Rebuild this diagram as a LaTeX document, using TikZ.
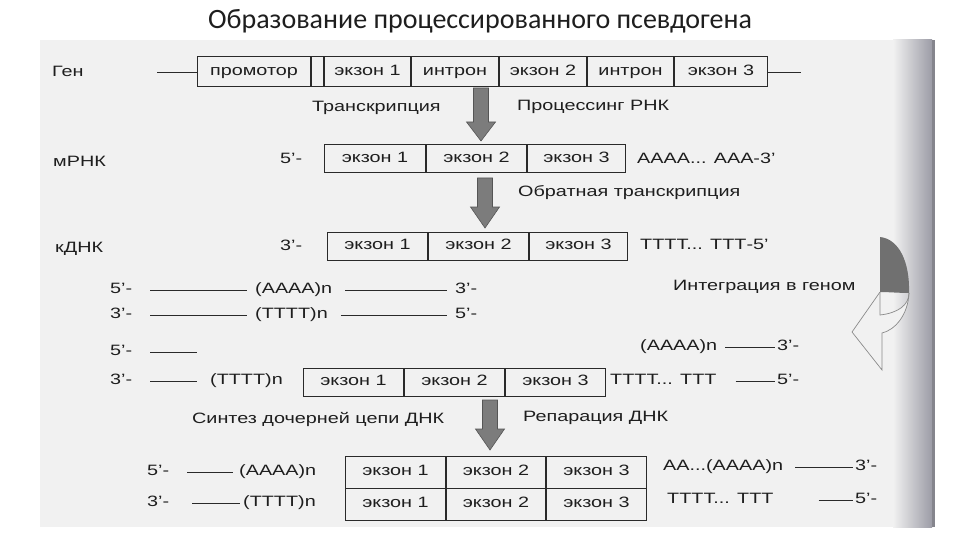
\documentclass[tikz,border=0pt]{standalone}
\usepackage{fontspec}
\setmainfont{Liberation Sans}[FakeStretch=1.32]
\newfontfamily\titlefont{Carlito}
\usetikzlibrary{calc}
\definecolor{txt}{HTML}{1E1E1E}
\definecolor{boxc}{HTML}{2A2A2A}
\definecolor{pagec}{HTML}{F1F1F1}
\definecolor{edgec}{HTML}{9C9CA6}
\definecolor{arrowfill}{HTML}{7C7C7C}
\definecolor{arrowdraw}{HTML}{555555}
\definecolor{intdark}{HTML}{707070}
\definecolor{intline}{HTML}{8A8A8A}
\newcommand\myblockarrow[5]{% name, x, top, head start, tip
  \coordinate (#1) at (#2,#3);
  \filldraw[fill=arrowfill, draw=arrowdraw, line width=0.6pt]
    (#2-7.5,#3) -- (#2+7.5,#3) -- (#2+7.5,#4) -- (#2+14.5,#4) -- (#2,#5)
    -- (#2-14.5,#4) -- (#2-7.5,#4) -- cycle;}
\begin{document}
\begin{tikzpicture}[x=1pt,y=-1pt,
  every node/.style={text=txt, font=\fontsize{15}{18}\selectfont, inner sep=0pt,
    text height=10.5pt, text depth=3pt},
  lbl/.style={anchor=west},
  seg/.style={draw=boxc, line width=1pt, minimum height=30pt, anchor=west},
  segb/.style={seg, minimum height=28pt},
  segc/.style={seg, minimum height=32pt},
  strand/.style={draw=boxc, line width=0.9pt}]
\useasboundingbox (0,0) rectangle (960,540);
\fill[white] (0,0) rectangle (960,540);
% scanned page
\fill[pagec] (40,40) rectangle (935,527);
\shade[left color=pagec, right color=edgec] (893,40) rectangle (932,527);
\fill[edgec!85!black] (932,40) rectangle (935,527);

% title
\node[text height=, text depth=] (title) at (480,21) {\titlefont\fontsize{28}{32}\selectfont Образование процессированного псевдогена};

% gene
\node[lbl] (gen) at (52,73) {Ген};
\coordinate (g0) at (157,72);
\node[seg, minimum width=113] (prom) at (197,72) {промотор};
\node[seg, minimum width=12] (gap) at (prom.east) {};
\node[seg, minimum width=86] (ge1) at (gap.east) {экзон 1};
\node[seg, minimum width=87] (gi1) at (ge1.east) {интрон};
\node[seg, minimum width=87] (ge2) at (gi1.east) {экзон 2};
\node[seg, minimum width=86] (gi2) at (ge2.east) {интрон};
\node[seg, minimum width=93] (ge3) at (gi2.east) {экзон 3};
\coordinate (g1) at (801,72);
\draw[strand] (g0) -- (prom.west);
\draw[strand] (ge3.east) -- (g1);

\myblockarrow{arr1}{481}{88}{122}{141}
\node[lbl] (tr) at (312,108) {Транскрипция};
\node[lbl] (proc) at (517,107) {Процессинг РНК};

% mRNA
\node[lbl] (mrna) at (53,163) {мРНК};
\node[lbl] (m5) at (280,160) {5'-};
\node[segb, minimum width=101] (me1) at (324,159) {экзон 1};
\node[segb, minimum width=100] (me2) at (me1.east) {экзон 2};
\node[segb, minimum width=98] (me3) at (me2.east) {экзон 3};
\node[lbl] (mA) at (637,160) {АААА... ААА-3'};

\myblockarrow{arr2}{485}{178}{207}{228}
\node[lbl] (rt) at (518,193) {Обратная транскрипция};

% cDNA
\node[lbl] (cdna) at (55,249) {кДНК};
\node[lbl] (c3) at (280,247) {3'-};
\node[segb, minimum width=100] (ce1) at (327,246) {экзон 1};
\node[segb, minimum width=100] (ce2) at (ce1.east) {экзон 2};
\node[segb, minimum width=98] (ce3) at (ce2.east) {экзон 3};
\node[lbl] (cT) at (640,246) {ТТТТ... ТТТ-5'};

% genomic target
\node[lbl] (r4a) at (110,290) {5'-};
\node[lbl] (r4b) at (255,290) {(АААА)n};
\node[lbl] (r4c) at (455,290) {3'-};
\draw[strand, shorten <=18pt, shorten >=8pt] (r4a.east) -- (r4b.west);
\draw[strand, shorten <=13pt, shorten >=8pt] (r4b.east) -- (r4c.west);
\node[lbl] (r5a) at (110,315) {3'-};
\node[lbl] (r5b) at (255,315) {(ТТТТ)n};
\node[lbl] (r5c) at (455,315) {5'-};
\draw[strand, shorten <=18pt, shorten >=8pt] (r5a.east) -- (r5b.west);
\draw[strand, shorten <=13pt, shorten >=8pt] (r5b.east) -- (r5c.west);

\node[lbl] (integ) at (673,287) {Интеграция в геном};

% integration arrow
\fill[intdark] (880,237) .. controls (899,239) and (910,262) .. (909,293)
  .. controls (900,293) and (888,292) .. (880,292) -- cycle;
\fill[pagec] (880,292) -- (880,315) .. controls (898,313) and (909,305) .. (909,293)
  .. controls (908,315) and (895,330) .. (882,333) -- (882,370) -- (852,332) -- cycle;
\draw[intline, line width=0.7pt] (880,292) -- (880,315)
  .. controls (898,313) and (909,305) .. (909,293);
\draw[intline, line width=0.7pt] (880,292) -- (852,332) -- (882,370) -- (882,333)
  .. controls (895,330) and (908,315) .. (909,293);

% integrated
\node[lbl] (r6a) at (110,352) {5'-};
\coordinate (r6e) at (197,352);
\draw[strand, shorten <=18pt] (r6a.east) -- (r6e);
\node[lbl] (r6b) at (640,347) {(АААА)n};
\node[lbl] (r6c) at (777,347) {3'-};
\draw[strand, shorten <=8pt, shorten >=2pt] (r6b.east) -- (r6c.west);

\node[lbl] (r7a) at (110,381) {3'-};
\node[lbl] (r7b) at (210,381) {(ТТТТ)n};
\draw[strand, shorten <=18pt, shorten >=13pt] (r7a.east) -- (r7b.west);
\node[segb, minimum width=100] (ie1) at (303,382) {экзон 1};
\node[segb, minimum width=100] (ie2) at (ie1.east) {экзон 2};
\node[segb, minimum width=100] (ie3) at (ie2.east) {экзон 3};
\node[lbl] (r7c) at (610,381) {ТТТТ... ТТТ};
\node[lbl] (r7d) at (777,381) {5'-};
\draw[strand, shorten <=19pt, shorten >=2pt] (r7c.east) -- (r7d.west);

\myblockarrow{arr3}{490}{400}{429}{450}
\node[lbl] (syn) at (192,420) {Синтез дочерней цепи ДНК};
\node[lbl] (rep) at (523,418) {Репарация ДНК};

% final double-stranded pseudogene
\node[segc, minimum width=100] (fa1) at (345,472) {экзон 1};
\node[segc, minimum width=99] (fa2) at (fa1.east) {экзон 2};
\node[segc, minimum width=100] (fa3) at (fa2.east) {экзон 3};
\node[segc, minimum width=100] (fb1) at (345,504) {экзон 1};
\node[segc, minimum width=99] (fb2) at (fb1.east) {экзон 2};
\node[segc, minimum width=100] (fb3) at (fb2.east) {экзон 3};

\node[lbl] (b1a) at (147,472) {5'-};
\node[lbl] (b1b) at (239,472) {(АААА)n};
\draw[strand, shorten <=18pt, shorten >=6pt] (b1a.east) -- (b1b.west);
\node[lbl] (b2a) at (147,503) {3'-};
\node[lbl] (b2b) at (243,503) {(ТТТТ)n};
\draw[strand, shorten <=23pt, shorten >=3pt] (b2a.east) -- (b2b.west);

\node[lbl] (b1c) at (663,467) {АА...(АААА)n};
\node[lbl] (b1d) at (855,467) {3'-};
\draw[strand, shorten <=12pt, shorten >=2pt] (b1c.east) -- (b1d.west);
\node[lbl] (b2c) at (667,500) {ТТТТ... ТТТ};
\node[lbl] (b2d) at (855,500) {5'-};
\draw[strand, shorten <=45pt, shorten >=2pt] (b2c.east) -- (b2d.west);
\end{tikzpicture}
\end{document}
